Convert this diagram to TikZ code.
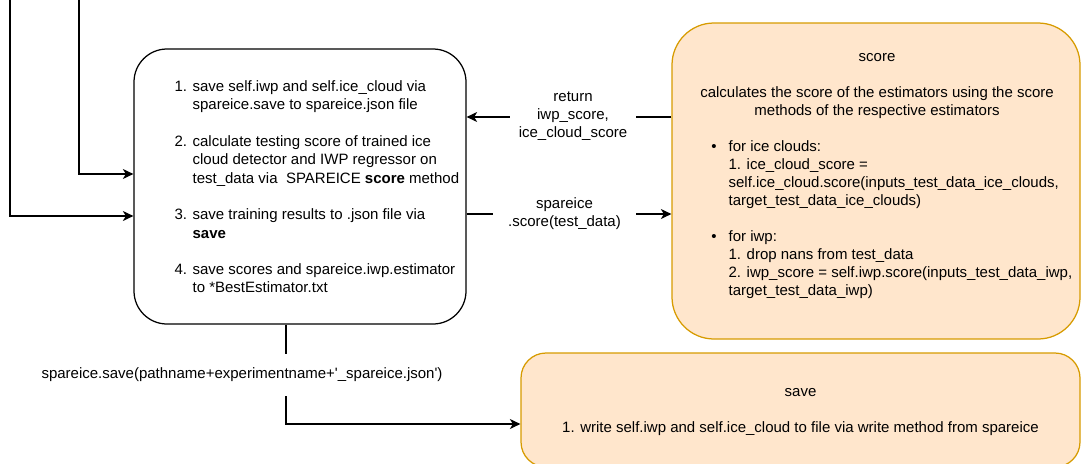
\documentclass[tikz,border=0pt]{standalone}
\usepackage{fontspec}
\setmainfont{Liberation Sans}
\usetikzlibrary{arrows.meta}
\definecolor{orfill}{HTML}{FFE6CC}
\definecolor{orline}{HTML}{D79B00}
\newcommand\fl{\rule{0pt}{11pt}}
\newcommand\nb[1]{\makebox[18pt][l]{#1}}
\newcommand\ind{\hspace*{18pt}}
\newcommand\bul{\llap{\textbullet\hspace{12pt}}}
\begin{document}
\begin{tikzpicture}[x=1pt,y=-1pt,line width=1.25pt,
  font=\fontsize{15}{18}\selectfont,
  procbox/.style={draw=black,rounded corners=33pt,inner sep=0pt},
  orbox/.style={draw=orline,fill=orfill,inner sep=0pt},
  arr/.style={-{Stealth[length=10.5pt,width=10pt,inset=3pt]}},
  txt/.style={inner sep=0pt,align=left,anchor=north west},
  lbl/.style={fill=white,align=center,inner sep=2pt}]
\useasboundingbox (0,0) rectangle (1081,463);

% boxes
\node[procbox,minimum width=332pt,minimum height=275pt] (proc) at (300,186.5) {};
\node[orbox,rounded corners=42pt,minimum width=408pt,minimum height=316pt] (score) at (876,181) {};
\node[orbox,rounded corners=25pt,minimum width=559pt,minimum height=114pt] (save) at (800.5,410) {};

% texts
\node[txt,font=\fontsize{15}{18.3}\selectfont] (proctext) at (174,80) {\fl\nb{1.}save self.iwp and self.ice\_cloud via\\
\ind spareice.save to spareice.json file\\[18.3pt]
\nb{2.}calculate testing score of trained ice\\
\ind cloud detector and IWP regressor on\\
\ind test\_data via\ \ SPAREICE \textbf{score} method\\[18.3pt]
\nb{3.}save training results to .json file via\\
\ind\textbf{save}\\[18.3pt]
\nb{4.}save scores and spareice.iwp.estimator\\
\ind to *BestEstimator.txt};

\node[txt,align=center,anchor=north] (scoretitle) at (877,50) {\fl score\\[18pt]
calculates the score of the estimators using the score\\
methods of the respective estimators};

\node[txt] (scorelist) at (728,140) {\fl\bul for ice clouds:\\
1. ice\_cloud\_score =\\
self.ice\_cloud.score(inputs\_test\_data\_ice\_clouds,\\
target\_test\_data\_ice\_clouds)\\[18pt]
\bul for iwp:\\
1. drop nans from test\_data\\
2. iwp\_score = self.iwp.score(inputs\_test\_data\_iwp,\\
target\_test\_data\_iwp)};

\node[txt,align=center,anchor=north] (savetext) at (800.5,385) {\fl save\\[18pt]
1. write self.iwp and self.ice\_cloud to file via write method from spareice};

% coordinates
\coordinate (t1) at (10,-2);
\coordinate (t2) at (79,-2);
\coordinate (l1) at (0,216);
\coordinate (l2) at (0,174);
\coordinate (r1) at (0,117);
\coordinate (r2) at (0,214);
\coordinate (b1) at (286,424);

% connectors
\draw[arr] (t1) |- (proc.west |- l1);
\draw[arr] (t2) |- (proc.west |- l2);

\draw[arr] (score.west |- r1) -- (proc.east |- r1);
\node[lbl,inner xsep=9pt] (retlbl) at (573,116.5) {return\\iwp\_score,\\ice\_cloud\_score};

\draw[arr] (proc.east |- r2) -- (score.west |- r2);
\node[lbl,inner xsep=15pt] (scorelbl) at (564.5,214) {spareice\\.score(test\_data)};

\draw[arr] (proc.south -| b1) -- (b1) -- (save.west |- b1);
\node[lbl,inner ysep=14pt] (savelbl) at (242,375) {spareice.save(pathname+experimentname+\textquotesingle\_spareice.json\textquotesingle)};
\end{tikzpicture}
\end{document}
